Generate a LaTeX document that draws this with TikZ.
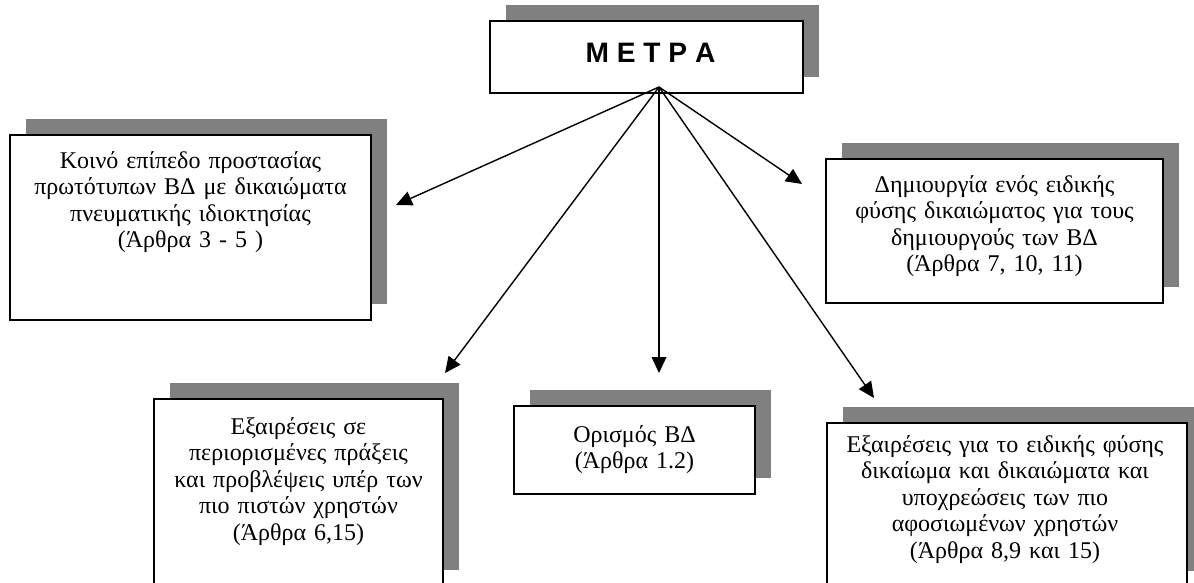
\documentclass[tikz,border=0pt]{standalone}
\usepackage{fontspec}
\setmainfont{Liberation Serif}
\newfontfamily\titlefont{Liberation Sans}
\usepackage{tikz}
\usetikzlibrary{arrows.meta, shadows}
\tikzset{box/.style={draw, line width=1.1pt, fill=white, inner sep=0pt, general shadow={fill=gray, shadow xshift=8.5pt, shadow yshift=8.5pt}},
	boxtext/.style={anchor=base, align=center, inner sep=0pt, font=\fontsize{12.8}{14.2}\selectfont},
	arr/.style={line width=0.75pt, -{Triangle[length=8.5pt, width=7.8pt]}}}

\begin{document}
\begin{tikzpicture}[x=0.5334pt, y=-0.5334pt]
	\def \pw {0.5334pt}
	\clip (0,0) rectangle (1194,582);
	\fill[white] (0,0) rectangle (1194,582);
	% boxes
	\node[box, minimum width=313*\pw, minimum height=72*\pw] at (646.5,57) (Metra) {};
	\node[box, minimum width=361*\pw, minimum height=185*\pw] at (190.5,227.5) (Common) {};
	\node[box, minimum width=337*\pw, minimum height=144*\pw] at (994.5,231) (SuiGeneris) {};
	\node[box, minimum width=289*\pw, minimum height=187*\pw] at (298.5,492.5) (Exceptions) {};
	\node[box, minimum width=241*\pw, minimum height=88*\pw] at (634.5,450) (Definition) {};
	\node[box, minimum width=360*\pw, minimum height=164*\pw] at (1007,505) (SuiExceptions) {};
	% texts
	\node[anchor=base, inner sep=0pt, font=\titlefont\bfseries\fontsize{15}{18}\selectfont] at (650.5,62) (MetraText) {Μ Ε Τ Ρ Α};
	\node[boxtext, text width=350*\pw] at (190.5,168) (CommonText) {Κοινό επίπεδο προστασίας\\πρωτότυπων ΒΔ με δικαιώματα\\πνευματικής ιδιοκτησίας\\(Άρθρα 3 - 5 )};
	\node[boxtext, text width=330*\pw] at (994.5,192) (SuiGenerisText) {Δημιουργία ενός ειδικής\\φύσης δικαιώματος για τους\\δημιουργούς των ΒΔ\\(Άρθρα 7, 10, 11)};
	\node[boxtext, text width=280*\pw] at (298.5,434) (ExceptionsText) {Εξαιρέσεις σε\\περιορισμένες πράξεις\\και προβλέψεις υπέρ των\\πιο πιστών χρηστών\\(Άρθρα 6,15)};
	\node[boxtext, text width=230*\pw] at (634.5,442) (DefinitionText) {Ορισμός ΒΔ\\(Άρθρα 1.2)};
	\node[boxtext, text width=350*\pw] at (1005,452) (SuiExceptionsText) {Εξαιρέσεις για το ειδικής φύσης\\δικαίωμα και δικαιώματα και\\υποχρεώσεις των πιο\\αφοσιωμένων χρηστών\\(Άρθρα 8,9 και 15)};
	% arrows
	\coordinate (hub) at (659,87);
	\coordinate (toCommon) at (396,205);
	\coordinate (toExceptions) at (445,373);
	\coordinate (toDefinition) at (659,373);
	\coordinate (toSuiExceptions) at (874,398);
	\coordinate (toSuiGeneris) at (802,184);
	\foreach \target in {toCommon, toExceptions, toDefinition, toSuiExceptions, toSuiGeneris}
		\draw[arr] (hub) -- (\target);
\end{tikzpicture}
\end{document}
